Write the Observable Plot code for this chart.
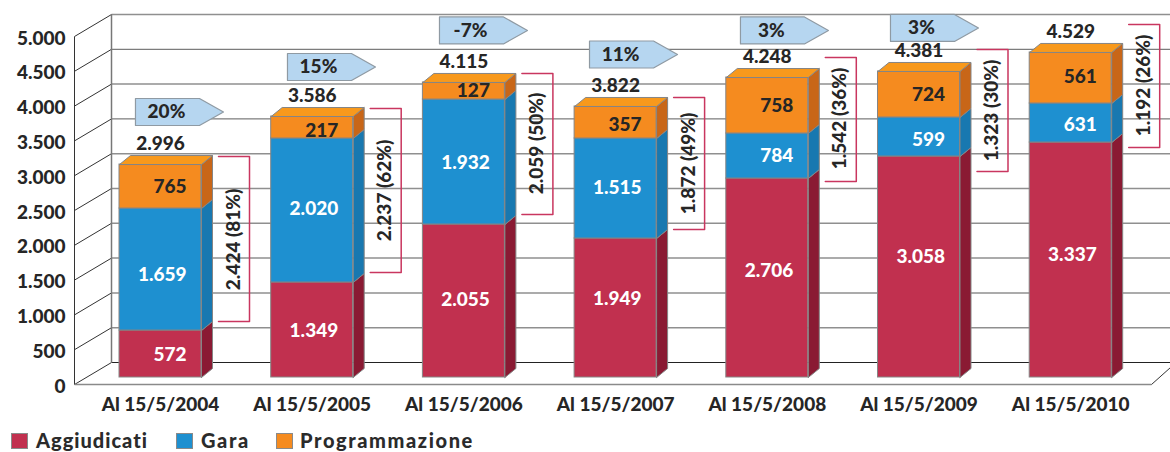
<!DOCTYPE html>
<html><head><meta charset="utf-8">
<script src="https://cdn.jsdelivr.net/npm/d3@7"></script>
<script src="https://cdn.jsdelivr.net/npm/@observablehq/plot@0.6"></script>
<style>
html,body{margin:0;padding:0;background:#fff;overflow:hidden}
#legend{display:block;position:relative;height:27px;font:900 20px Lato,sans-serif;color:#2b2b2b}
#legend i{position:absolute;top:8px;width:15px;height:14px;border:1px solid #8a8a8a;box-sizing:content-box}
#legend span{position:absolute;top:3px;line-height:24px;white-space:nowrap}
</style></head><body>
<div id="chart"></div><div id="legend"></div>
<script>
// Printed values
const dates = ["Al 15/5/2004","Al 15/5/2005","Al 15/5/2006","Al 15/5/2007","Al 15/5/2008","Al 15/5/2009","Al 15/5/2010"];
const aggiudicati = [572,1349,2055,1949,2706,3058,3337];
const gara = [1659,2020,1932,1515,784,599,631];
const programmazione = [765,217,127,357,758,724,561];
const totals = [2996,3586,4115,3822,4248,4381,4529];
const changes = ["20%","15%","-7%","11%","3%","3%"];
const bracketTexts = ["2.424 (81%)","2.237 (62%)","2.059 (50%)","1.872 (49%)","1.542 (36%)","1.323 (30%)","1.192 (26%)"];
const yTicks = [0,500,1000,1500,2000,2500,3000,3500,4000,4500,5000];
const darkGrid = [3500,4500];
// Segment tops (the original is not drawn exactly to its labels)
const redTop = [675,1365,2198,1997,2859,3175,3376];
const blueTop = [2428,3434,3994,3434,3506,3736,3937];
const orangeTop = [3060,3750,4239,3894,4310,4397,4670];
// Places where annotations sit, read on the same axes
const redLabelY = [330,675,1121,1135,1537,1739,1767];
const blueLabelY = [1480,2428,3089,2730,3190,3420,3635];
const orangeLabelY = [2744,3549,4124,3635,3908,4066,4325];
const arrowX = [-0.165,0.837,1.839,2.828,3.823,4.812];
const arrowY = [3815,4461,4986,4641,4986,5022];
const bracketTop = [3175,3865,4368,4023,4598,4713,5072];
const bracketBottom = [805,1509,2342,2126,2816,2960,3305];
const bracketTextY = [1983,2687,3362,3075,3721,3836,4195];

const W=1170,H=425;
const sx=151.7, sy=0.0696;            // px per x unit / px per y unit
const px=p=>p/sx, py=p=>p/sy;
const colors={red:["#c1304f","#8a1a33"],blue:["#1e90d0","#1878b0"],orange:["#f58b1f","#c86618"],top:"#f8991c"};
const ink="#262626", edge="#858585", brk="#c9365f";
const num=v=>d3.format(",")(v).replace(/,/g,".");
const idx=dates.map((_,i)=>i);
const halfW=px(41), depX=px(11), depY=py(9);

// Bar faces
const fronts=[],faces=[];
idx.forEach(i=>{
  [[0,redTop[i],colors.red],[redTop[i],blueTop[i],colors.blue],[blueTop[i],orangeTop[i],colors.orange]].forEach(([a,b,c],k)=>{
    fronts.push({x1:i-halfW,x2:i+halfW,y1:a,y2:b,c:c[0]});
    const id=`s${i}-${k}`, r=i+halfW;
    [[r,a],[r+depX,a+depY],[r+depX,b+depY],[r,b],[r,a]].forEach(([x,y])=>faces.push({id,x,y,c:c[1]}));
  });
  const t=orangeTop[i], l=i-halfW, r=i+halfW, id=`t${i}`;
  [[l,t],[l+depX,t+depY],[r+depX,t+depY],[r,t],[l,t]].forEach(([x,y])=>faces.push({id,x,y,c:colors.top}));
});

// Arrows
const arrows=[];
changes.forEach((_,i)=>{
  const l=arrowX[i], y=arrowY[i], h=py(13.5), b=l+px(64), tip=l+px(88), id=`a${i}`;
  [[l,y-h],[b,y-h],[tip,y],[b,y+h],[l,y+h],[l,y-h]].forEach(([x,yy])=>arrows.push({id,x,y:yy}));
});

// Brackets
const brackets=[];
idx.forEach(i=>{
  const a=i+px(58), b=i+px(89), id=`b${i}`;
  [[a,bracketTop[i]],[b,bracketTop[i]],[b,bracketBottom[i]],[a,bracketBottom[i]]].forEach(([x,y])=>brackets.push({id,x,y}));
});

// Frame geometry
const frontX=px(74-160), wallX=px(111-160), rightX=px(1170-160), floorEndX=px(1151-160);
const zFront=-py(7), zBack=py(15);      // where value 0 falls on the floor's front edge and on the back wall

const font="Lato, sans-serif";
const txt={fontFamily:font,fontWeight:900,fontSize:19,letterSpacing:"1px"};

const plot=Plot.plot({
  width:W,height:H,
  marginLeft:0,marginRight:0,marginTop:0,marginBottom:30,
  style:{background:"transparent",overflow:"visible"},
  x:{type:"linear",domain:[px(-160),px(1010)],range:[0,W],axis:null},
  y:{type:"linear",domain:[py(-48),py(377)],range:[H,0],axis:null},
  color:{type:"identity"},
  marks:[
    Plot.link(yTicks.filter(v=>v>0&&!darkGrid.includes(v)),{x1:wallX,x2:rightX,y1:v=>v+zBack,y2:v=>v+zBack,stroke:"#8f8f8f",strokeWidth:1.5}),
    Plot.link(darkGrid,{x1:wallX,x2:rightX,y1:v=>v+zBack,y2:v=>v+zBack,stroke:"#5c5c5c",strokeWidth:1}),
    Plot.link([0],{x1:wallX,x2:rightX,y1:v=>v+zBack,y2:v=>v+zBack,stroke:"#222",strokeWidth:1.2}),
    Plot.link(yTicks,{x1:frontX,x2:wallX,y1:v=>v+zFront,y2:v=>v+zBack,stroke:"#333",strokeWidth:1}),
    Plot.link([0],{x1:frontX,x2:frontX,y1:zFront,y2:5000+zFront,stroke:"#333",strokeWidth:1}),
    Plot.link([0],{x1:wallX,x2:wallX,y1:zBack,y2:5000+zBack,stroke:"#777",strokeWidth:1.5}),
    Plot.link([0],{x1:frontX,x2:floorEndX,y1:zFront,y2:zFront,stroke:"#8a8a8a",strokeWidth:1.5}),
    Plot.link([0],{x1:floorEndX,x2:rightX,y1:zFront,y2:zFront+py(17),stroke:"#333",strokeWidth:1}),
    Plot.rect(fronts,{x1:"x1",x2:"x2",y1:"y1",y2:"y2",fill:"c",stroke:edge,strokeWidth:1}),
    Plot.line(faces,{x:"x",y:"y",z:"id",fill:"c",stroke:edge,strokeWidth:1,curve:"linear"}),
    Plot.line(arrows,{x:"x",y:"y",z:"id",fill:"#b6d6f0",stroke:"#8f9aa3",strokeWidth:1.2,curve:"linear"}),
    Plot.line(brackets,{x:"x",y:"y",z:"id",stroke:brk,strokeWidth:1.5,curve:"linear"}),
    Plot.text(changes,{x:(_,i)=>arrowX[i]+px(31),y:(_,i)=>arrowY[i],text:d=>d,fill:ink,...txt}),
    Plot.text(idx,{x:i=>i,y:i=>orangeTop[i]+py(21),text:i=>num(totals[i]),fill:ink,...txt}),
    Plot.text(idx,{x:i=>i+px(26),y:i=>redLabelY[i],text:i=>num(aggiudicati[i]),textAnchor:"end",fill:"#fff",...txt}),
    Plot.text(idx,{x:i=>i+px(26),y:i=>blueLabelY[i],text:i=>num(gara[i]),textAnchor:"end",fill:"#fff",...txt}),
    Plot.text(idx,{x:i=>i+px(26),y:i=>orangeLabelY[i],text:i=>num(programmazione[i]),textAnchor:"end",fill:ink,...txt}),
    Plot.text(idx,{x:i=>i+px(73),y:i=>bracketTextY[i],text:i=>bracketTexts[i],rotate:-90,fill:ink,...txt}),
    Plot.axisY({x:frontX,anchor:"left",ticks:yTicks,tickSize:0,tickPadding:9,dy:9,label:null,tickFormat:num,fill:ink,...txt}),
    Plot.axisX({anchor:"bottom",ticks:idx,tickSize:0,tickPadding:2,label:null,tickFormat:i=>dates[i],fill:ink,...txt})
  ]
});
document.getElementById("chart").appendChild(plot);

const leg=document.getElementById("legend");
[["Aggiudicati",colors.red[0],11,36,1],["Gara",colors.blue[0],176,201,1.6],["Programmazione",colors.orange[0],276,300,1.6]].forEach(([t,c,sw,tx,ls])=>{
  const i=document.createElement("i");i.style.left=sw+"px";i.style.background=c;leg.appendChild(i);
  const s=document.createElement("span");s.style.left=tx+"px";s.style.letterSpacing=ls+"px";s.textContent=t;leg.appendChild(s);
});
</script>
</body></html>
